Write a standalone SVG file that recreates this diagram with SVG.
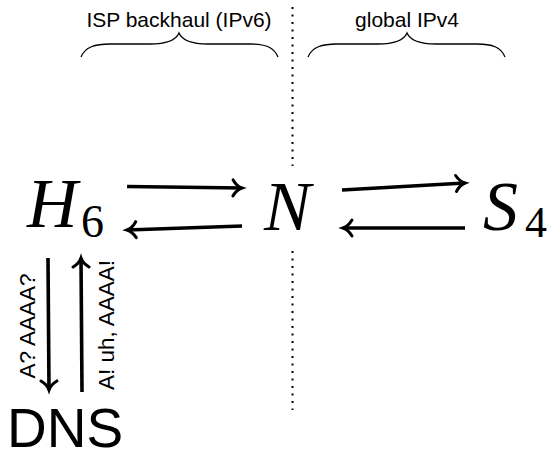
<svg xmlns="http://www.w3.org/2000/svg" width="553" height="458" viewBox="0 0 553 458">
<style>
.lbl{font-family:"Liberation Sans",Arial,sans-serif;fill:#000}
.math{font-family:"Liberation Serif","Times New Roman",serif;font-style:italic;fill:#000}
.sub{font-family:"Liberation Serif","Times New Roman",serif;fill:#000}
.arr{stroke:#000;stroke-width:3.6;fill:none;marker-end:url(#head)}
.brace{stroke:#000;stroke-width:1.3;fill:none}
.dots{stroke:#000;stroke-width:2;stroke-dasharray:2 5.5;fill:none}
</style>
<defs>
<marker id="head" markerUnits="userSpaceOnUse" viewBox="-12 -11 14 22" markerWidth="14" markerHeight="22" refX="0" refY="0" orient="auto" overflow="visible">
<path d="M -9,-8 C -6,-3 -3,-1 0,0 C -3,1 -6,3 -9,8" stroke="#000" stroke-width="3" fill="none" stroke-linecap="round"/>
</marker>
</defs>
<rect width="553" height="458" fill="#fff"/>
<g id="regions">
<text class="lbl" x="179" y="27" font-size="21" text-anchor="middle">ISP backhaul (IPv6)</text>
<path class="brace" d="M 81,57 C 85,47 95,44 110,44 L 150,44 C 168,44 176,40 179,33 C 182,40 190,44 208,44 L 250,44 C 265,44 274,47 278,57"/>
<text class="lbl" x="407" y="27" font-size="21" text-anchor="middle">global IPv4</text>
<path class="brace" d="M 308,57 C 312,47 322,44 337,44 L 378,44 C 396,44 404,40 407,33 C 410,40 418,44 436,44 L 477,44 C 492,44 501,47 505,57"/>
<path class="dots" d="M 292.5,7 L 292.5,166"/>
<path class="dots" d="M 292.5,251 L 292.5,410"/>
</g>
<g id="H6">
<text class="math" x="27" y="227" font-size="70">H</text>
<text class="sub" x="81" y="237" font-size="46">6</text>
</g>
<g id="N">
<text class="math" x="264" y="230" font-size="70">N</text>
</g>
<g id="S4">
<text class="math" x="483" y="230" font-size="70">S</text>
<text class="sub" x="525" y="237" font-size="44">4</text>
</g>
<g id="DNS">
<text class="lbl" x="7" y="447" font-size="55">DNS</text>
</g>
<g id="connectors">
<path class="arr" d="M 127,186.5 L 242,188"/>
<path class="arr" d="M 242,226 L 127,230"/>
<path class="arr" d="M 342,190 L 465,183"/>
<path class="arr" d="M 465,228 L 343,228"/>
<path class="arr" d="M 48,258 L 49,390"/>
<path class="arr" d="M 82,392 L 81,258"/>
<text class="lbl" font-size="22.5" text-anchor="middle" transform="translate(35,326) rotate(-90)">A? AAAA?</text>
<text class="lbl" font-size="22.5" text-anchor="middle" transform="translate(114,325) rotate(-90)">A! uh, AAAA!</text>
</g>
</svg>
